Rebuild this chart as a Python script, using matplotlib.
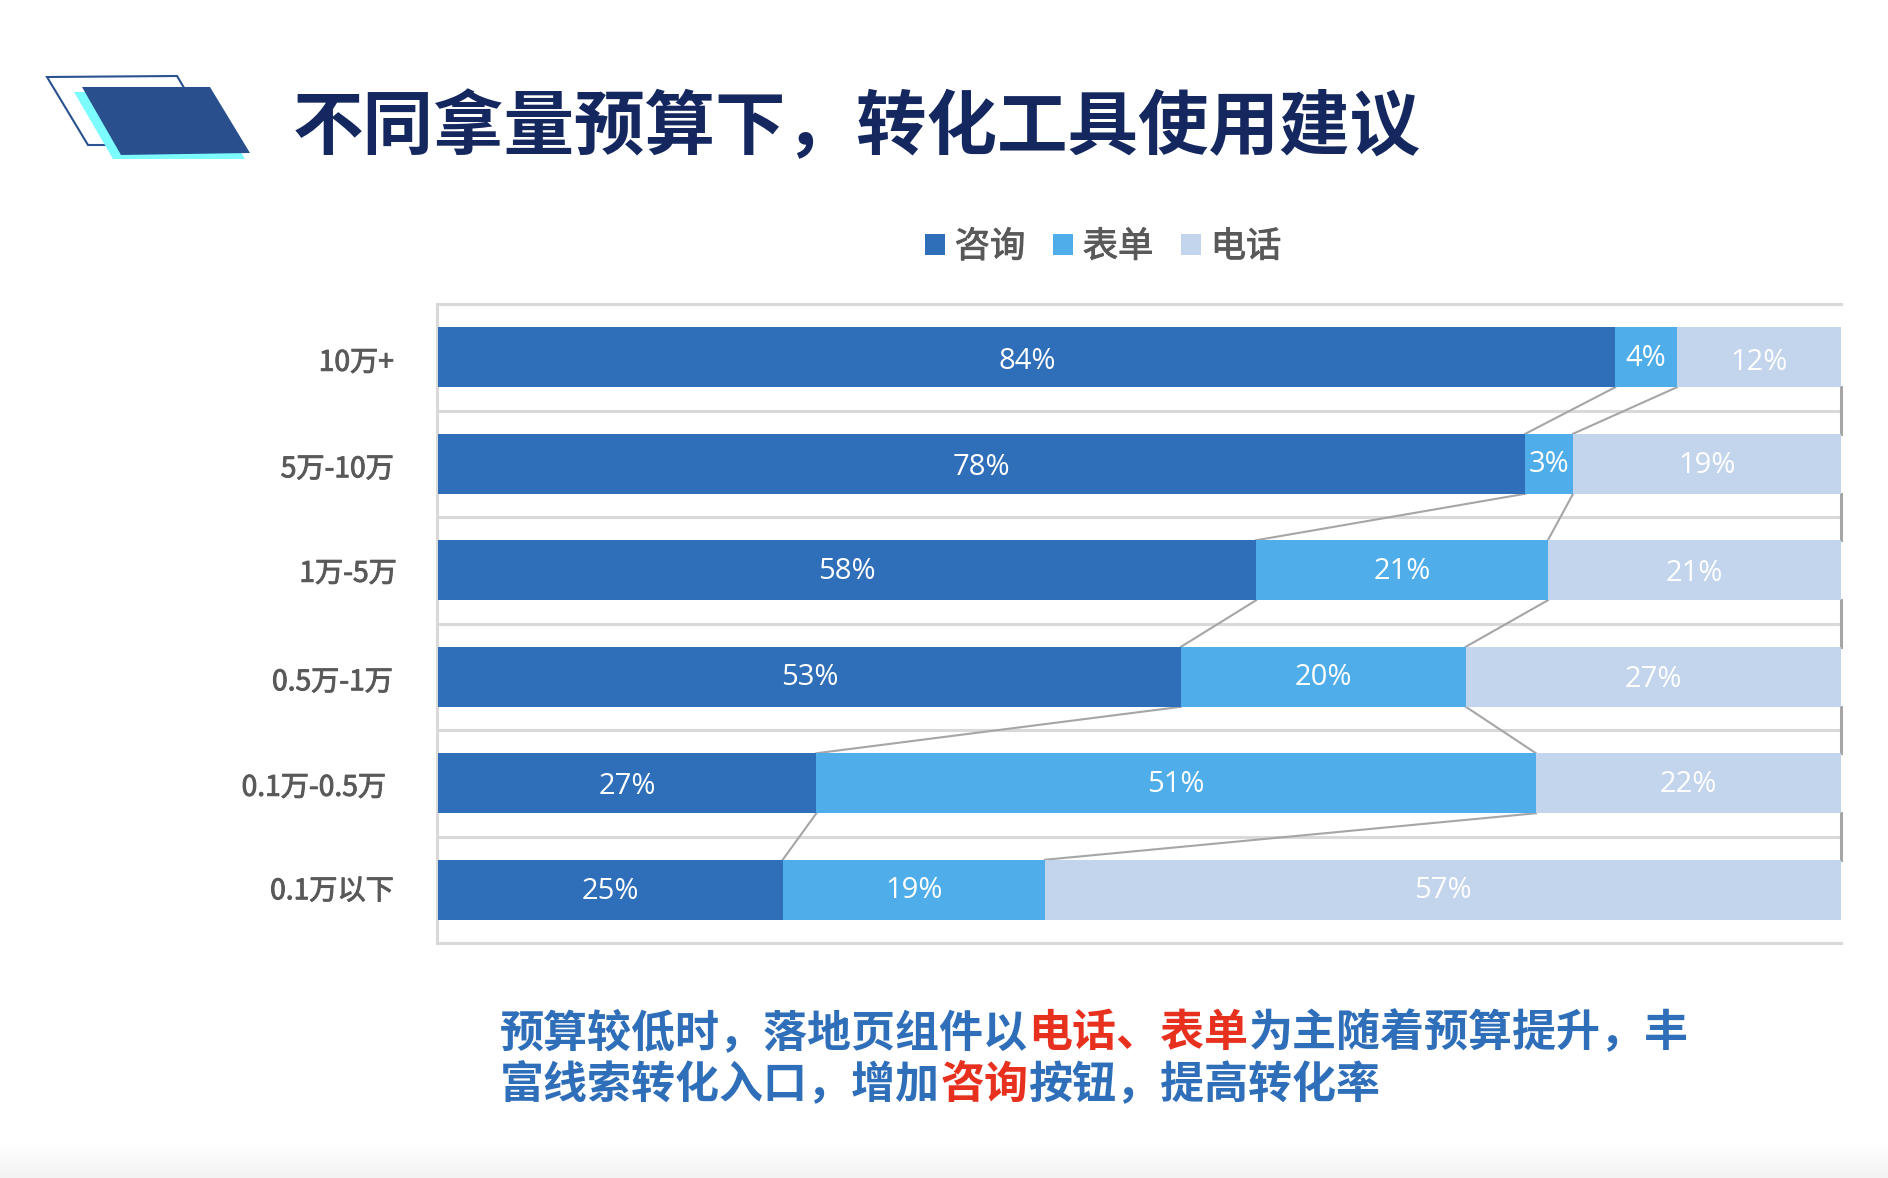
import matplotlib
matplotlib.use("Agg")
import matplotlib.pyplot as plt
import matplotlib.patheffects as pe
from matplotlib.patches import Polygon
from matplotlib.transforms import ScaledTranslation
import numpy as np

plt.rcParams['font.family'] = ['Noto Sans CJK SC', 'DejaVu Sans']

# data
categories = ['10万+', '5万-10万', '1万-5万', '0.5万-1万', '0.1万-0.5万', '0.1万以下']
series_names = ['咨询', '表单', '电话']
consult = [83.9, 77.5, 58.3, 52.95, 26.95, 24.55]
form = [4.4, 3.4, 20.8, 20.3, 51.3, 18.7]
phone = [11.7, 19.1, 20.9, 26.75, 21.75, 56.75]
consult_labels = ['84%', '78%', '58%', '53%', '27%', '25%']
form_labels = ['4%', '3%', '21%', '20%', '51%', '19%']
phone_labels = ['12%', '19%', '21%', '27%', '22%', '57%']
title = '不同拿量预算下，转化工具使用建议'
note_line1 = [('预算较低时，落地页组件以', 'blue'), ('电话、表单', 'red'), ('为主随着预算提升，丰', 'blue')]
note_line2 = [('富线索转化入口，增加', 'blue'), ('咨询', 'red'), ('按钮，提高转化率', 'blue')]

W, H = 1888, 1178
DARK = '#2f6eb8'
MID = '#4fadea'
LIGHT = '#c3d5ec'
GRID = '#d9d9d9'
CONN = '#a6a6a6'
LABEL_GREY = '#595959'
TEXT_COLORS = {'blue': '#2f6eb8', 'red': '#e8301f'}
NOTE_SIZE = 31.7

fig = plt.figure(figsize=(W / 100, H / 100), dpi=100)

# full page layer in pixel coordinates
page = fig.add_axes([0, 0, 1, 1], zorder=0)

# grey fade at the bottom of the page
fade = np.linspace(1.0, 0.95, 40).reshape(-1, 1)
page.imshow(fade, cmap='gray', vmin=0, vmax=1, extent=(0, W, H, H - 40), aspect='auto')
page.set_xlim(0, W)
page.set_ylim(H, 0)
page.axis('off')

# logo
page.add_patch(Polygon([(47, 77), (177, 76), (218, 145), (88, 145)], closed=True,
                       facecolor='white', edgecolor='#2a5190', linewidth=1.5))
page.add_patch(Polygon([(74, 92), (205, 92), (245, 159), (113, 159)], closed=True,
                       facecolor='#7dfcff', edgecolor='none'))
page.add_patch(Polygon([(82, 87), (210, 87), (250, 153), (121, 155)], closed=True,
                       facecolor='#29508c', edgecolor='none'))

page.text(293, 128, title, fontsize=50.8, fontweight='bold', color='#14285f',
          ha='left', va='center')


def draw_runs(runs, x, y):
    # coloured pieces on one line, each starts where the last one ended
    for text, color in runs:
        page.text(x, y, text, fontsize=NOTE_SIZE, fontweight='bold',
                  color=TEXT_COLORS[color], ha='left', va='center')
        x += len(text) * NOTE_SIZE * 100 / 72


draw_runs(note_line1, 500, 1033.5)
draw_runs(note_line2, 500, 1085.5)

# chart
left, right, top, bottom = 437, 1841, 304, 943
ax = fig.add_axes([left / W, 1 - bottom / H, (right - left) / W, (bottom - top) / H], zorder=1)
ax.set_facecolor('none')

y = np.arange(len(categories))
bar_h = 60 / 106.5
consult_arr = np.array(consult)
form_arr = np.array(form)
phone_arr = np.array(phone)
b1 = ax.barh(y, consult_arr, height=bar_h, color=DARK, zorder=3)
b2 = ax.barh(y, form_arr, left=consult_arr, height=bar_h, color=MID, zorder=3)
b3 = ax.barh(y, phone_arr, left=consult_arr + form_arr, height=bar_h, color=LIGHT, zorder=3)

ax.set_xlim(-0.1, 100)
ax.set_ylim(len(categories) - 0.5, -0.5)
ax.set_xticks([])
ax.set_yticks(y)
ax.set_yticklabels(categories, fontsize=20.3, color=LABEL_GREY)
ax.tick_params(axis='y', length=0, pad=0)

# the original text is a medium weight, a thin outline gets close to it
medium = [pe.withStroke(linewidth=0.7, foreground=LABEL_GREY)]

# the category labels were placed by hand in the original
label_dx = [-43, -43, -40, -44, -51, -43]
label_dy = [2, 2, 0, 2, 1, -2]
for lab, dx, dy in zip(ax.get_yticklabels(), label_dx, label_dy):
    lab.set_transform(lab.get_transform() + ScaledTranslation(dx / 100, -dy / 100, fig.dpi_scale_trans))
    lab.set_path_effects(medium)

# band lines
ax.set_yticks(y[:-1] + 0.5, minor=True)
ax.tick_params(axis='y', which='minor', length=0)
ax.grid(which='minor', axis='y', color=GRID, linewidth=2.2, zorder=1)
for name in ['top', 'left', 'bottom']:
    ax.spines[name].set_color(GRID)
    ax.spines[name].set_linewidth(2.2)
ax.spines['right'].set_visible(False)

# connector lines between the bars
for i in range(len(categories) - 1):
    y0 = i + bar_h / 2
    y1 = i + 1 - bar_h / 2
    ax.plot([consult[i], consult[i + 1]], [y0, y1], color=CONN, linewidth=1.5, zorder=2)
    ax.plot([consult[i] + form[i], consult[i + 1] + form[i + 1]], [y0, y1], color=CONN, linewidth=1.5, zorder=2)
    ax.plot([100, 100], [y0, y1], color=CONN, linewidth=2.2, zorder=2, clip_on=False)

# value labels
consult_nudge = [4, 4, 1, 1, 3, 2]
form_nudge = [1, 1, 1, 1, 1, 1]
phone_nudge = [5, 2, 3, 3, 1, 1]
label_font = dict(color='white', fontsize=21, family=['Open Sans', 'DejaVu Sans'],
                  ha='center', va='center', zorder=4, textcoords='offset pixels')
for i in y:
    ax.annotate(consult_labels[i], (consult[i] / 2, i), xytext=(0, -consult_nudge[i]), **label_font)
    ax.annotate(form_labels[i], (consult[i] + form[i] / 2, i), xytext=(0, -form_nudge[i]), **label_font)
    ax.annotate(phone_labels[i], (consult[i] + form[i] + phone[i] / 2, i), xytext=(0, -phone_nudge[i]), **label_font)

leg = ax.legend([b1, b2, b3], series_names, ncol=3, frameon=False, loc='center',
                bbox_to_anchor=(1103 / W, 1 - 247 / H), bbox_transform=fig.transFigure,
                prop={'size': 25.4}, labelcolor=LABEL_GREY,
                handlelength=0.57, handleheight=0.57, handletextpad=0.28, columnspacing=0.78)
for t in leg.get_texts():
    t.set_path_effects(medium)

fig.savefig('out.png', dpi=100)
